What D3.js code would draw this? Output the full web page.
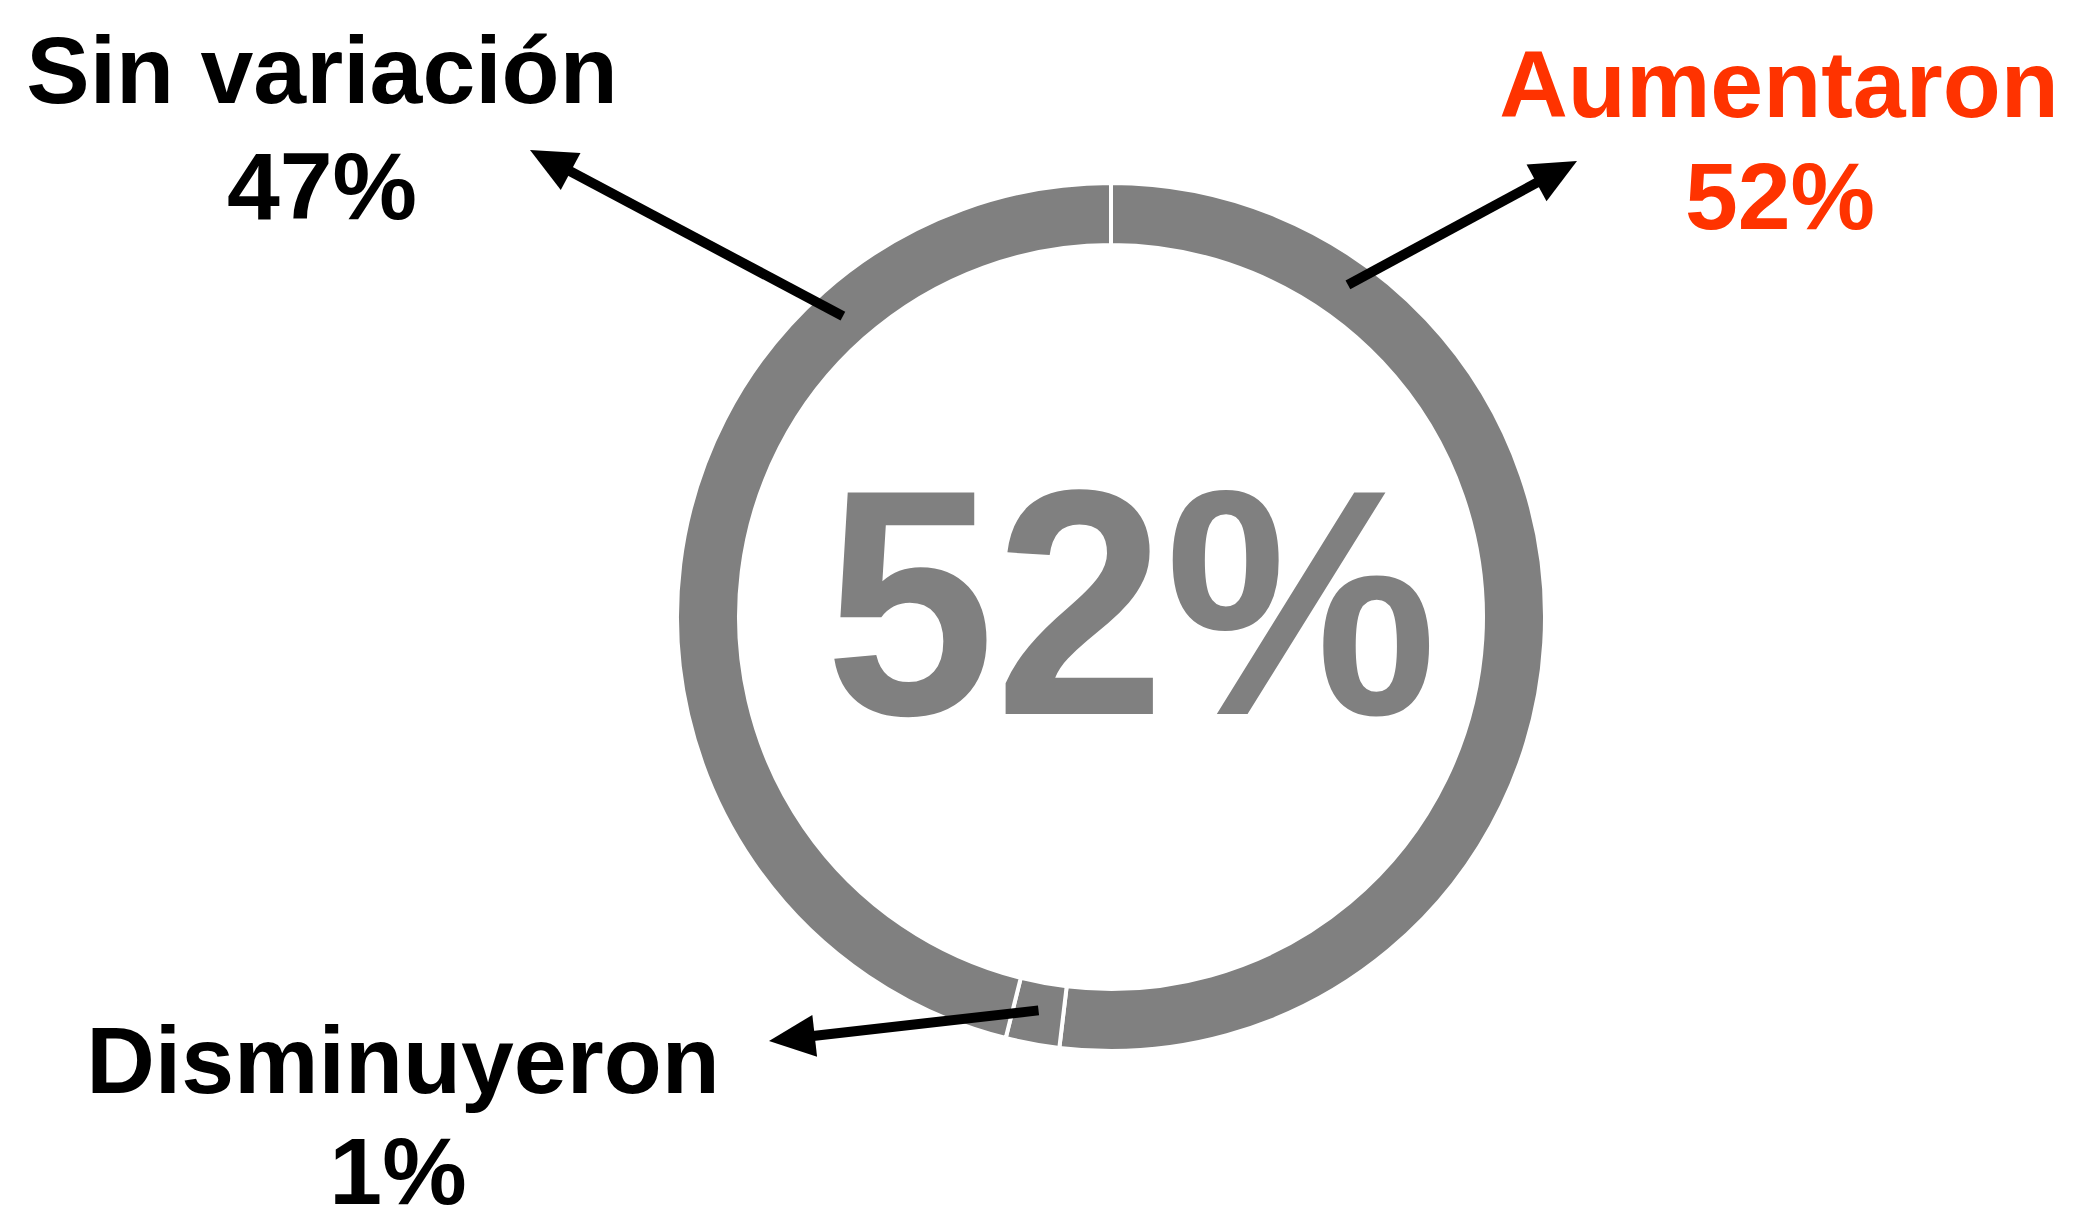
<!DOCTYPE html>
<html>
<head>
<meta charset="utf-8">
<script src="https://cdn.jsdelivr.net/npm/d3@7"></script>
<style>
  html, body { margin: 0; padding: 0; background: #ffffff; }
  svg { display: block; }
  text { font-family: "Liberation Sans", Arial, Helvetica, sans-serif; font-weight: bold; }
</style>
</head>
<body>
<script>
// ---- data ----
const categories = ["Aumentaron", "Disminuyeron", "Sin variación"];
const values = [51.9, 2.0, 46.1];
const percentLabels = ["52%", "1%", "47%"];
const centerLabel = "52%";
const labelColors = ["#FF3300", "#000000", "#000000"];

// ---- layout ----
const W = 2079, H = 1213;
const cx = 1111, cy = 617;
const rOuter = 434, rInner = 372;

const svg = d3.select("body").append("svg")
  .attr("width", W).attr("height", H);

const pie = d3.pie().sort(null).value(d => d);
const arcs = pie(values);
const arc = d3.arc().innerRadius(rInner).outerRadius(rOuter);

const g = svg.append("g").attr("transform", `translate(${cx},${cy})`);
g.selectAll("path.slice")
  .data(arcs)
  .enter().append("path")
  .attr("class", "slice")
  .attr("d", arc)
  .attr("fill", "#808080")
  .attr("stroke", "#ffffff")
  .attr("stroke-width", 4);

// center label
svg.append("text")
  .attr("transform", "translate(1131,714) scale(0.95,1)")
  .attr("text-anchor", "middle")
  .attr("font-size", 322)
  .attr("fill", "#808080")
  .text(centerLabel);

// annotation placement
const annot = [
  { tailAngle: 35.5, tailR: 408, tip: [1577, 161], label: [1779, 117], pct: [1780, 229] },
  { tailAngle: null, tailR: 400, tip: [769, 1041], label: [403, 1093], pct: [398, 1204] },
  { tailAngle: -41.7, tailR: 403, tip: [530, 150], label: [322, 103], pct: [322, 219] }
];

const headLen = 46, headHalf = 21, lineW = 10;

annot.forEach((a, i) => {
  const ang = a.tailAngle === null
    ? (arcs[i].startAngle + arcs[i].endAngle) / 2
    : a.tailAngle * Math.PI / 180;
  const tx = cx + a.tailR * Math.sin(ang);
  const ty = cy - a.tailR * Math.cos(ang);
  const dx = a.tip[0] - tx, dy = a.tip[1] - ty;
  const len = Math.hypot(dx, dy);
  const ux = dx / len, uy = dy / len;
  const bx = a.tip[0] - ux * headLen, by = a.tip[1] - uy * headLen;
  svg.append("line")
    .attr("x1", tx).attr("y1", ty)
    .attr("x2", bx + ux * 4).attr("y2", by + uy * 4)
    .attr("stroke", "#000")
    .attr("stroke-width", lineW);
  const pts = [
    [a.tip[0], a.tip[1]],
    [bx - uy * headHalf, by + ux * headHalf],
    [bx + uy * headHalf, by - ux * headHalf]
  ];
  svg.append("path")
    .attr("d", d3.line()(pts) + "Z")
    .attr("fill", "#000");

  svg.append("text")
    .attr("x", a.label[0]).attr("y", a.label[1])
    .attr("text-anchor", "middle")
    .attr("font-size", 95)
    .attr("fill", labelColors[i])
    .text(categories[i]);
  svg.append("text")
    .attr("x", a.pct[0]).attr("y", a.pct[1])
    .attr("text-anchor", "middle")
    .attr("font-size", 95)
    .attr("fill", labelColors[i])
    .text(percentLabels[i]);
});
</script>
</body>
</html>
